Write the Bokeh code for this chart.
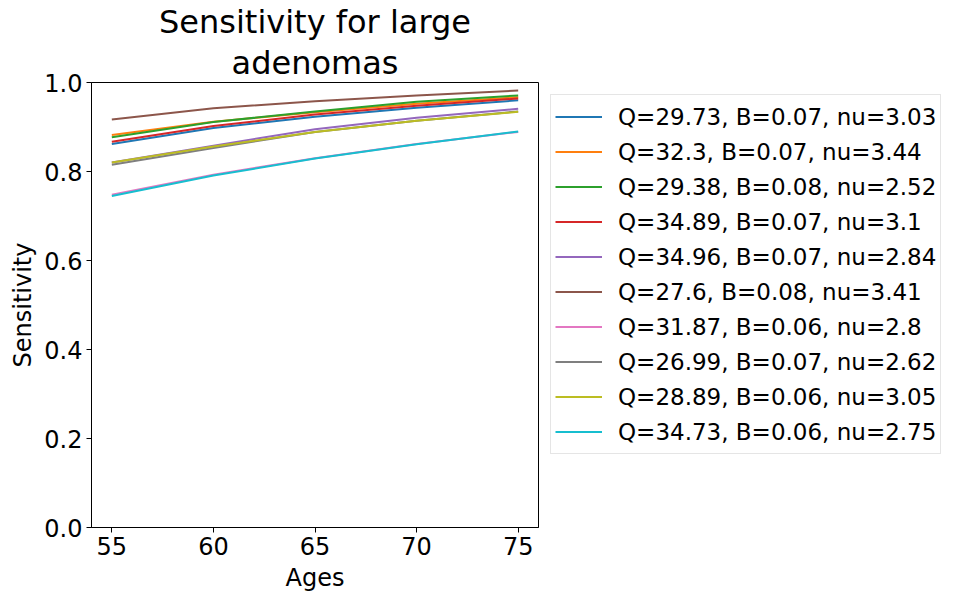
from bokeh.plotting import figure
from bokeh.layouts import row
from bokeh.models import Legend, LegendItem, Title, FixedTicker, PrintfTickFormatter, Range1d, Spacer
from bokeh.embed import file_html
from bokeh.resources import INLINE

ages = [55, 60, 65, 70, 75]

labels = [
    "Q=29.73, B=0.07, nu=3.03",
    "Q=32.3, B=0.07, nu=3.44",
    "Q=29.38, B=0.08, nu=2.52",
    "Q=34.89, B=0.07, nu=3.1",
    "Q=34.96, B=0.07, nu=2.84",
    "Q=27.6, B=0.08, nu=3.41",
    "Q=31.87, B=0.06, nu=2.8",
    "Q=26.99, B=0.07, nu=2.62",
    "Q=28.89, B=0.06, nu=3.05",
    "Q=34.73, B=0.06, nu=2.75",
]

s_blue = [0.862, 0.898, 0.923, 0.943, 0.960]
s_orange = [0.882, 0.912, 0.933, 0.952, 0.967]
s_green = [0.877, 0.911, 0.935, 0.957, 0.971]
s_red = [0.867, 0.902, 0.928, 0.948, 0.964]
s_purple = [0.820, 0.858, 0.895, 0.921, 0.941]
s_brown = [0.917, 0.942, 0.958, 0.971, 0.982]
s_pink = [0.748, 0.793, 0.830, 0.862, 0.889]
s_gray = [0.815, 0.853, 0.889, 0.914, 0.935]
s_olive = [0.820, 0.856, 0.889, 0.914, 0.934]
s_cyan = [0.745, 0.791, 0.829, 0.861, 0.890]

series = [s_blue, s_orange, s_green, s_red, s_purple, s_brown, s_pink, s_gray, s_olive, s_cyan]
colors = ["#1f77b4", "#ff7f0e", "#2ca02c", "#d62728", "#9467bd",
          "#8c564b", "#e377c2", "#7f7f7f", "#bcbd22", "#17becf"]

title_lines = ["Sensitivity for large", "adenomas"]
y_ticks = [0.0, 0.2, 0.4, 0.6, 0.8, 1.0]
x_ticks = [55, 60, 65, 70, 75]

FONT = "DejaVu Sans"

p = figure(frame_width=447, frame_height=445,
           min_border_left=0, min_border_right=0, min_border_bottom=60, min_border_top=0,
           x_range=Range1d(54, 76), y_range=Range1d(0, 1),
           output_backend="svg", toolbar_location=None)

items = []
for ys, c, lab in zip(series, colors, labels):
    r = p.line(ages, ys, line_color=c, line_width=2)
    items.append(LegendItem(label=lab, renderers=[r]))

p.xgrid.visible = False
p.ygrid.visible = False
p.outline_line_color = "black"
p.outline_line_width = 1
p.outline_line_alpha = 1

for ax in (p.xaxis, p.yaxis):
    ax.axis_line_color = "black"
    ax.major_tick_line_color = "black"
    ax.major_tick_out = 5
    ax.major_tick_in = 0
    ax.minor_tick_line_color = None
    ax.major_label_text_font = FONT
    ax.major_label_text_font_size = "24px"
    ax.major_label_text_color = "black"
    ax.axis_label_text_font = FONT
    ax.axis_label_text_font_size = "24px"
    ax.axis_label_text_font_style = "normal"
    ax.axis_label_text_color = "black"

p.xaxis.ticker = FixedTicker(ticks=x_ticks)
p.yaxis.ticker = FixedTicker(ticks=y_ticks)
p.yaxis.formatter = PrintfTickFormatter(format="%.1f")
p.xaxis.axis_label = "Ages"
p.yaxis.axis_label = "Sensitivity"
p.xaxis.major_label_standoff = 4
p.yaxis.major_label_standoff = 4
p.xaxis.axis_label_standoff = 6
p.yaxis.axis_label_standoff = 4

for i, line in enumerate(reversed(title_lines)):
    t = Title(text=line, align="center", text_font=FONT, text_font_size="32px",
              text_font_style="normal", text_color="black", text_line_height=0.9,
              standoff=2 if i == 0 else 0, offset=0)
    p.add_layout(t, "above")

legend = Legend(items=items, location="top_left", margin=12,
                label_text_font=FONT, label_text_font_size="23px", label_text_color="black",
                glyph_width=47, glyph_height=35, label_height=35, spacing=0,
                label_standoff=16, padding=4,
                border_line_color="#cccccc", border_line_width=1,
                background_fill_color="white")
p.add_layout(legend, "right")

layout = row(Spacer(width=6), p)

open("out.html", "w").write(file_html(layout, INLINE))
